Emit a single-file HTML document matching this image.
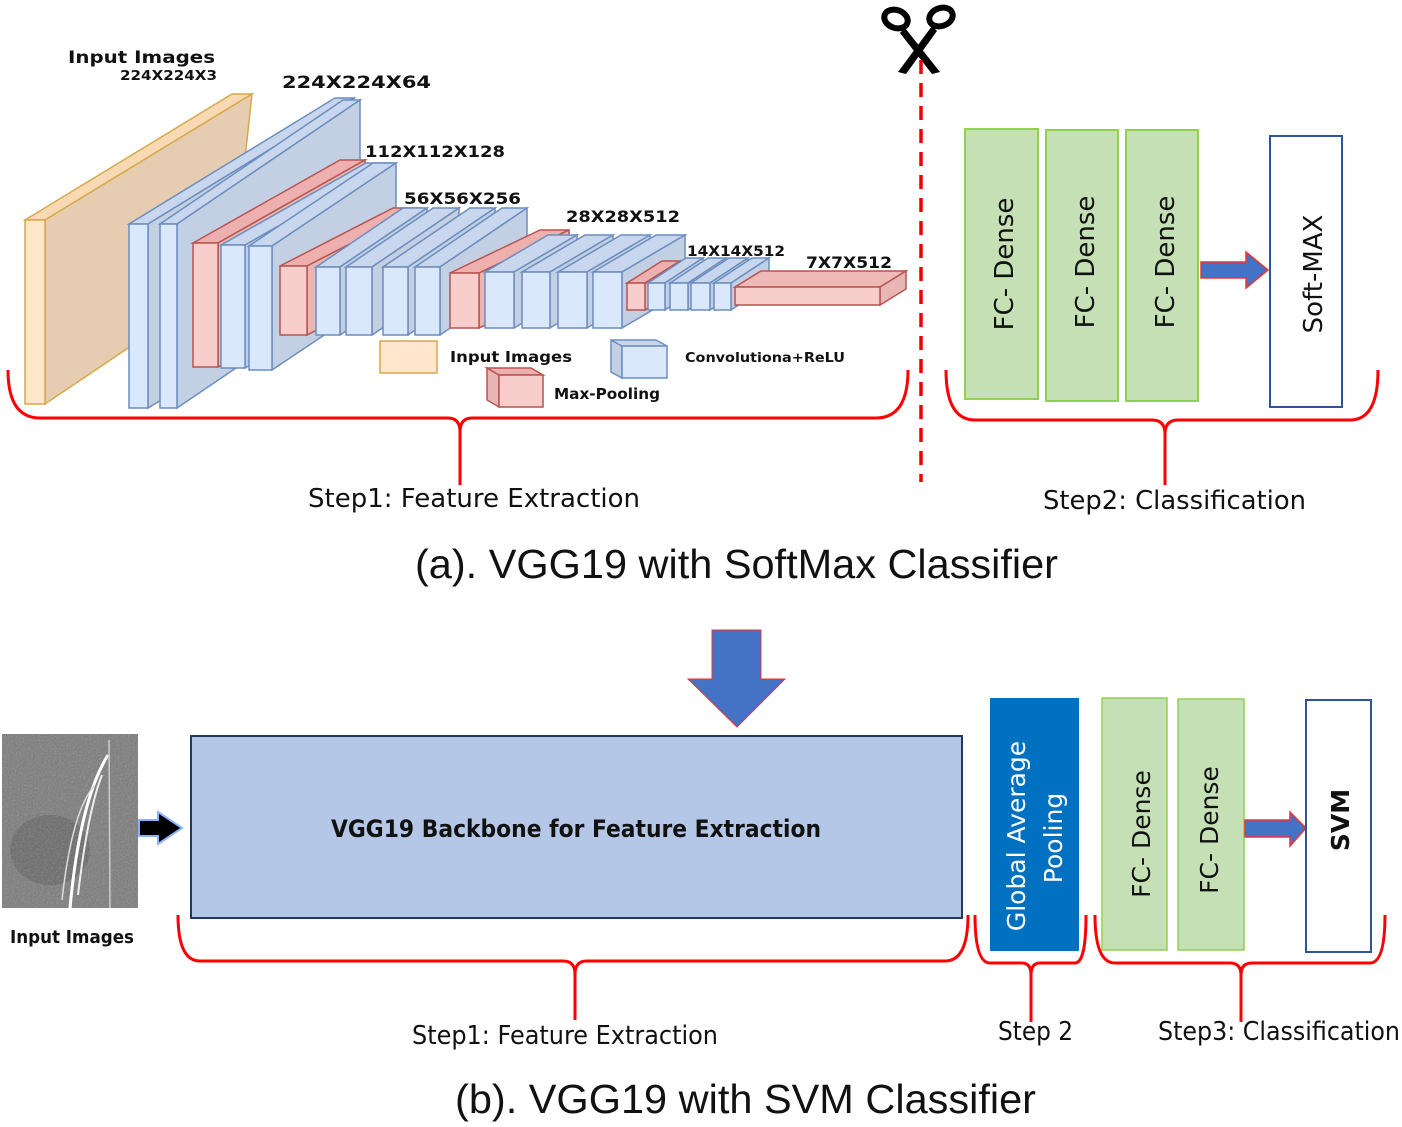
<!DOCTYPE html>
<html><head><meta charset="utf-8"><style>
html,body{margin:0;padding:0;background:#fff}
svg{display:block}
.lb{font-family:"DejaVu Sans",sans-serif;font-weight:bold;fill:#111}
.st{font-family:"DejaVu Sans","Liberation Sans",sans-serif;font-size:26px;fill:#111}
.tt{font-family:"Liberation Sans",sans-serif;font-size:41px;fill:#111}
.b path,.b rect{stroke:#6c8ebf;stroke-width:1.5}
.r path,.r rect{stroke:#b85450;stroke-width:1.5}
.brace{fill:none;stroke:#f00;stroke-width:3}
</style></head><body>
<svg width="1402" height="1127" viewBox="0 0 1402 1127" xmlns="http://www.w3.org/2000/svg">
<defs>
<filter id="gr" x="0" y="0" width="1" height="1"><feTurbulence type="fractalNoise" baseFrequency="0.6" numOctaves="2" seed="3"/><feColorMatrix type="saturate" values="0"/><feComponentTransfer><feFuncA type="linear" slope="0.35"/></feComponentTransfer><feComposite in2="SourceGraphic" operator="in"/></filter>
</defs>
<g stroke="#d6a94a" stroke-width="1.5">
<path d="M25,220 L232,94 L252,94 L45,220Z" fill="#f8d9b4"/>
<path d="M45,220 L252,94 L232,278 L45,404Z" fill="#e6cdb2"/>
<rect x="25" y="220" width="20" height="184" fill="#ffe6cc"/>
</g>
<g class="b">
<path d="M129,224 L335,98 L354,98 L148,224Z" fill="#c9d7ee"/><path d="M148,224 L354,98 L354,282 L148,408Z" fill="#c3cfe2"/><rect x="129" y="224" width="19" height="184" fill="#dae8fc"/>
<path d="M160,224 L343,100 L360,100 L177,224Z" fill="#c9d7ee"/><path d="M177,224 L360,100 L360,284 L177,408Z" fill="#c3cfe2"/><rect x="160" y="224" width="17" height="184" fill="#dae8fc"/>
</g>
<g class="r"><path d="M193,243 L340,160 L365,160 L218,243Z" fill="#eeb0ae"/><path d="M218,243 L365,160 L365,284 L218,367Z" fill="#e8b7b5"/><rect x="193" y="243" width="25" height="124" fill="#f8cecc"/></g>
<g class="b">
<path d="M221,245 L366,163 L390,163 L245,245Z" fill="#c9d7ee"/><path d="M245,245 L390,163 L390,286 L245,368Z" fill="#c3cfe2"/><rect x="221" y="245" width="24" height="123" fill="#dae8fc"/>
<path d="M249,246 L373,163 L396,163 L272,246Z" fill="#c9d7ee"/><path d="M272,246 L396,163 L396,287 L272,370Z" fill="#c3cfe2"/><rect x="249" y="246" width="23" height="124" fill="#dae8fc"/>
</g>
<g class="r"><path d="M280,266 L393,208 L420,208 L307,266Z" fill="#eeb0ae"/><path d="M307,266 L420,208 L420,277 L307,335Z" fill="#e8b7b5"/><rect x="280" y="266" width="27" height="69" fill="#f8cecc"/></g>
<g class="b">
<path d="M316,267 L403,208 L427,208 L340,267Z" fill="#c9d7ee"/><path d="M340,267 L427,208 L427,276 L340,335Z" fill="#c3cfe2"/><rect x="316" y="267" width="24" height="68" fill="#dae8fc"/>
<path d="M346,267 L433,208 L459,208 L372,267Z" fill="#c9d7ee"/><path d="M372,267 L459,208 L459,276 L372,335Z" fill="#c3cfe2"/><rect x="346" y="267" width="26" height="68" fill="#dae8fc"/>
<path d="M383,267 L470,208 L495,208 L408,267Z" fill="#c9d7ee"/><path d="M408,267 L495,208 L495,276 L408,335Z" fill="#c3cfe2"/><rect x="383" y="267" width="25" height="68" fill="#dae8fc"/>
<path d="M415,267 L502,208 L527,208 L440,267Z" fill="#c9d7ee"/><path d="M440,267 L527,208 L527,276 L440,335Z" fill="#c3cfe2"/><rect x="415" y="267" width="25" height="68" fill="#dae8fc"/>
</g>
<g class="r"><path d="M450,273 L540,230 L569,230 L479,273Z" fill="#eeb0ae"/><path d="M479,273 L569,230 L569,285 L479,328Z" fill="#e8b7b5"/><rect x="450" y="273" width="29" height="55" fill="#f8cecc"/></g>
<g class="b">
<path d="M485,272 L548,235 L577,235 L514,272Z" fill="#c9d7ee"/><path d="M514,272 L577,235 L577,291 L514,328Z" fill="#c3cfe2"/><rect x="485" y="272" width="29" height="56" fill="#dae8fc"/>
<path d="M522,272 L585,235 L613,235 L550,272Z" fill="#c9d7ee"/><path d="M550,272 L613,235 L613,291 L550,328Z" fill="#c3cfe2"/><rect x="522" y="272" width="28" height="56" fill="#dae8fc"/>
<path d="M558,272 L621,235 L650,235 L587,272Z" fill="#c9d7ee"/><path d="M587,272 L650,235 L650,291 L587,328Z" fill="#c3cfe2"/><rect x="558" y="272" width="29" height="56" fill="#dae8fc"/>
<path d="M593,272 L656,235 L685,235 L622,272Z" fill="#c9d7ee"/><path d="M622,272 L685,235 L685,291 L622,328Z" fill="#c3cfe2"/><rect x="593" y="272" width="29" height="56" fill="#dae8fc"/>
</g>
<g class="r"><path d="M627,283 L662,261 L680,261 L645,283Z" fill="#eeb0ae"/><path d="M645,283 L680,261 L680,288 L645,310Z" fill="#e8b7b5"/><rect x="627" y="283" width="18" height="27" fill="#f8cecc"/></g>
<g class="b">
<path d="M648,283 L686,258 L703,258 L665,283Z" fill="#c9d7ee"/><path d="M665,283 L703,258 L703,285 L665,310Z" fill="#c3cfe2"/><rect x="648" y="283" width="17" height="27" fill="#dae8fc"/>
<path d="M670,283 L708,258 L726,258 L688,283Z" fill="#c9d7ee"/><path d="M688,283 L726,258 L726,285 L688,310Z" fill="#c3cfe2"/><rect x="670" y="283" width="18" height="27" fill="#dae8fc"/>
<path d="M691,283 L729,258 L748,258 L710,283Z" fill="#c9d7ee"/><path d="M710,283 L748,258 L748,285 L710,310Z" fill="#c3cfe2"/><rect x="691" y="283" width="19" height="27" fill="#dae8fc"/>
<path d="M714,283 L752,258 L769,258 L731,283Z" fill="#c9d7ee"/><path d="M731,283 L769,258 L769,285 L731,310Z" fill="#c3cfe2"/><rect x="714" y="283" width="17" height="27" fill="#dae8fc"/>
</g>
<g class="r"><path d="M735,287 L761,271 L906,271 L880,287Z" fill="#eeb9b7"/><path d="M880,287 L906,271 L906,289 L880,305Z" fill="#e8b7b5"/><rect x="735" y="287" width="145" height="18" fill="#f8cecc"/></g>
<rect x="380" y="341" width="57" height="32" fill="#ffe6cc" stroke="#d6a94a" stroke-width="1.5"/>
<g class="r"><path d="M487,368 L499,375 L499,407 L487,400Z" fill="#e8b7b5"/><path d="M487,368 L531,368 L543,375 L499,375Z" fill="#eeb0ae"/><rect x="499" y="375" width="44" height="32" fill="#f8cecc"/></g>
<g class="b"><path d="M611,340 L622,346 L622,378 L611,372Z" fill="#c3cfe2"/><path d="M611,340 L656,340 L667,346 L622,346Z" fill="#c9d7ee"/><rect x="622" y="346" width="45" height="32" fill="#dae8fc"/></g>
<g lengthAdjust="spacingAndGlyphs">
<text class="lb" x="450" y="362" font-size="15" textLength="122" lengthAdjust="spacingAndGlyphs">Input Images</text>
<text class="lb" x="554" y="399" font-size="15" textLength="106" lengthAdjust="spacingAndGlyphs">Max-Pooling</text>
<text class="lb" x="685" y="362" font-size="13" textLength="160" lengthAdjust="spacingAndGlyphs">Convolutiona+ReLU</text>
<text class="lb" x="68" y="63" font-size="17" textLength="147" lengthAdjust="spacingAndGlyphs">Input Images</text>
<text class="lb" x="120" y="80" font-size="13" textLength="97" lengthAdjust="spacingAndGlyphs">224X224X3</text>
<text class="lb" x="282" y="88" font-size="17" textLength="149" lengthAdjust="spacingAndGlyphs">224X224X64</text>
<text class="lb" x="365" y="157" font-size="16" textLength="140" lengthAdjust="spacingAndGlyphs">112X112X128</text>
<text class="lb" x="404" y="204" font-size="16" textLength="117" lengthAdjust="spacingAndGlyphs">56X56X256</text>
<text class="lb" x="566" y="222" font-size="16" textLength="114" lengthAdjust="spacingAndGlyphs">28X28X512</text>
<text class="lb" x="687" y="256" font-size="14" textLength="98" lengthAdjust="spacingAndGlyphs">14X14X512</text>
<text class="lb" x="806" y="268" font-size="16" textLength="86" lengthAdjust="spacingAndGlyphs">7X7X512</text>
</g>
<g fill="none" stroke="#000" stroke-width="6">
<ellipse cx="896" cy="19" rx="12" ry="9" transform="rotate(20 896 19)"/>
<ellipse cx="941" cy="17" rx="12" ry="9" transform="rotate(-20 941 17)"/>
</g>
<path d="M905,28 L940,72 L932,74 L900,33 Z" fill="#000"/>
<path d="M932,26 L937,31 L906,74 L898,72 Z" fill="#000"/>
<line x1="921" y1="60" x2="921" y2="482" stroke="#e00" stroke-width="3.5" stroke-dasharray="14,9"/>
<g fill="#c5e0b4" stroke="#92d050" stroke-width="2">
<rect x="965" y="129" width="73" height="270"/>
<rect x="1046" y="130" width="72" height="271"/>
<rect x="1126" y="130" width="72" height="271"/>
</g>
<rect x="1270" y="136" width="72" height="271" fill="#fff" stroke="#2f5597" stroke-width="2"/>
<g font-family="DejaVu Sans,sans-serif" font-size="26" fill="#111">
<text transform="translate(1013,264) rotate(-90)" text-anchor="middle">FC- Dense</text>
<text transform="translate(1094,262) rotate(-90)" text-anchor="middle">FC- Dense</text>
<text transform="translate(1174,262) rotate(-90)" text-anchor="middle">FC- Dense</text>
<text transform="translate(1322,274) rotate(-90)" text-anchor="middle">Soft-MAX</text>
</g>
<path d="M1201,262 L1246,262 L1246,252 L1268,270 L1246,288 L1246,278 L1201,278Z" fill="#4472c4" stroke="#e33" stroke-width="1.5"/>
<path class="brace" d="M8,370 Q8,418 40,418 L448,418 Q460,418 460,432 L460,485 M460,432 Q460,418 472,418 L876,418 Q908,418 908,370"/>
<path class="brace" d="M946,370 Q946,420 975,420 L1152,420 Q1165,420 1165,434 L1165,485 M1165,434 Q1165,420 1178,420 L1350,420 Q1378,420 1378,370"/>
<text class="st" x="308" y="507" textLength="332" lengthAdjust="spacingAndGlyphs">Step1: Feature Extraction</text>
<text class="st" x="1043" y="509" textLength="263" lengthAdjust="spacingAndGlyphs">Step2: Classification</text>
<text class="tt" x="415" y="578" textLength="643" lengthAdjust="spacingAndGlyphs">(a). VGG19 with SoftMax Classifier</text>
<path d="M712,630 L761,630 L761,679 L785,679 L737,727 L688,679 L712,679Z" fill="#4472c4" stroke="#e33" stroke-width="1"/>
<rect x="2" y="734" width="136" height="174" fill="#7a7a7a"/>
<ellipse cx="50" cy="850" rx="40" ry="35" fill="#5a5a5a" opacity="0.6"/>
<rect x="2" y="734" width="136" height="174" fill="#888" filter="url(#gr)"/>
<path d="M70,908 Q80,800 108,755" stroke="#fff" stroke-width="3" fill="none"/>
<path d="M78,895 Q88,810 102,775" stroke="#eee" stroke-width="2" fill="none"/>
<path d="M62,900 Q72,810 95,785" stroke="#ddd" stroke-width="1.5" fill="none"/>
<line x1="109" y1="740" x2="110" y2="908" stroke="#ccc" stroke-width="1.5"/>
<text x="10" y="943" font-family="DejaVu Sans,sans-serif" font-weight="bold" font-size="18" fill="#111" textLength="124" lengthAdjust="spacingAndGlyphs">Input Images</text>
<path d="M139,820 L158,820 L158,812 L182,828 L158,844 L158,836 L139,836Z" fill="#000" stroke="#8ab0ff" stroke-width="2"/>
<rect x="191" y="736" width="771" height="182" fill="#b4c7e7" stroke="#1f3864" stroke-width="2"/>
<text x="331" y="837" font-family="DejaVu Sans,sans-serif" font-weight="bold" font-size="24" fill="#111" textLength="490" lengthAdjust="spacingAndGlyphs">VGG19 Backbone for Feature Extraction</text>
<rect x="990" y="698" width="89" height="253" fill="#0070c0"/>
<g font-family="DejaVu Sans,sans-serif" font-size="25" fill="#fff">
<text transform="translate(1025,836) rotate(-90)" text-anchor="middle">Global Average</text>
<text transform="translate(1062,838) rotate(-90)" text-anchor="middle">Pooling</text>
</g>
<g fill="#c5e0b4" stroke="#92d050" stroke-width="1.5">
<rect x="1102" y="698" width="65" height="252"/>
<rect x="1178" y="699" width="66" height="251"/>
</g>
<g font-family="DejaVu Sans,sans-serif" font-size="25" fill="#111">
<text transform="translate(1150,834) rotate(-90)" text-anchor="middle">FC- Dense</text>
<text transform="translate(1218,830) rotate(-90)" text-anchor="middle">FC- Dense</text>
</g>
<path d="M1245,820 L1290,820 L1290,812 L1306,828 L1290,846 L1290,837 L1245,837Z" fill="#4472c4" stroke="#e33" stroke-width="1.5"/>
<rect x="1306" y="700" width="65" height="252" fill="#fff" stroke="#2f5597" stroke-width="2"/>
<text transform="translate(1349,820) rotate(-90)" text-anchor="middle" font-family="DejaVu Sans,sans-serif" font-weight="bold" font-size="25" fill="#111">SVM</text>
<path class="brace" d="M178,915 Q178,961 200,961 L563,961 Q575,961 575,974 L575,1020 M575,974 Q575,961 587,961 L945,961 Q968,961 968,915"/>
<path class="brace" d="M975,915 Q975,963 990,963 L1022,963 Q1031,963 1031,975 L1031,1022 M1031,975 Q1031,963 1040,963 L1075,963 Q1086,963 1086,915"/>
<path class="brace" d="M1095,915 Q1095,963 1115,963 L1230,963 Q1241,963 1241,975 L1241,1022 M1241,975 Q1241,963 1252,963 L1370,963 Q1385,963 1385,915"/>
<text class="st" x="412" y="1044" textLength="306" lengthAdjust="spacingAndGlyphs">Step1: Feature Extraction</text>
<text class="st" x="998" y="1040" textLength="75" lengthAdjust="spacingAndGlyphs">Step 2</text>
<text class="st" x="1158" y="1040" textLength="242" lengthAdjust="spacingAndGlyphs">Step3: Classification</text>
<text class="tt" x="455" y="1113" textLength="581" lengthAdjust="spacingAndGlyphs">(b). VGG19 with SVM Classifier</text>
</svg>
</body></html>
